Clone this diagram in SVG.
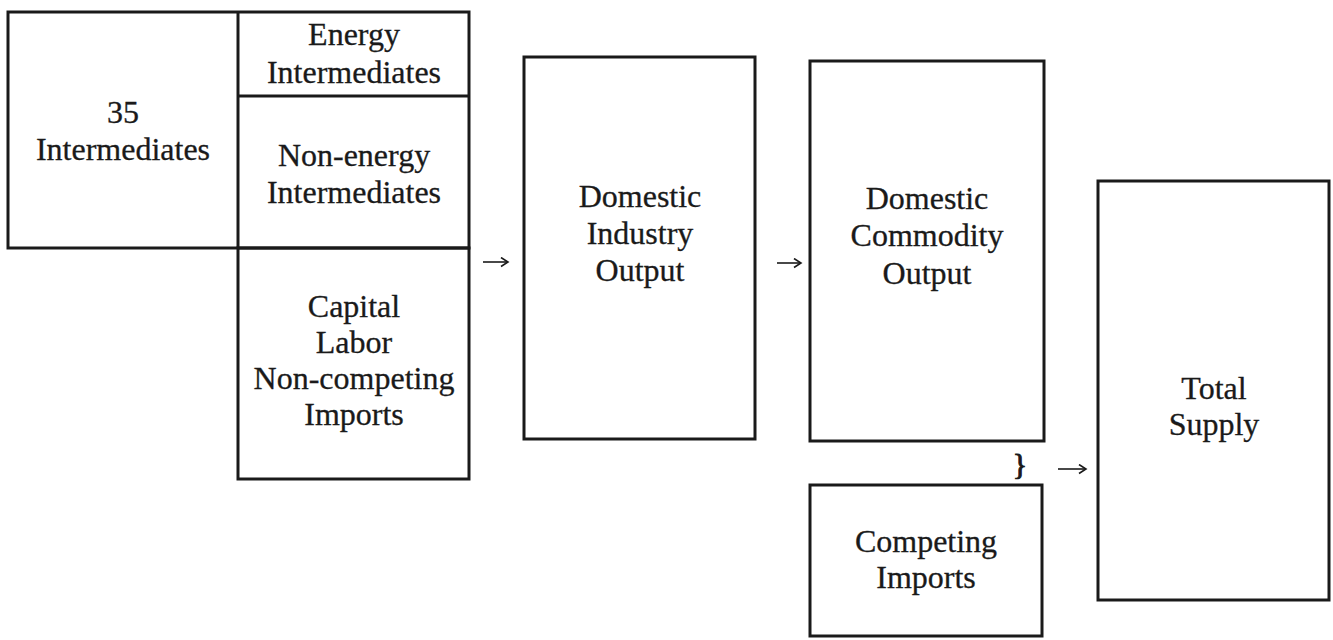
<svg xmlns="http://www.w3.org/2000/svg" width="1333" height="640" viewBox="0 0 1333 640">
<defs>
<style>
.box{fill:none;stroke:#1a1a1a;stroke-width:3}
.t{font-family:"Liberation Serif","Times New Roman",serif;font-size:32px;fill:#1a1a1a;stroke:#1a1a1a;stroke-width:0.3;text-anchor:middle}
.arr{fill:none;stroke:#1a1a1a;stroke-width:1.6}
</style>
<marker id="ah" markerWidth="12" markerHeight="12" refX="9" refY="5" orient="auto" markerUnits="userSpaceOnUse">
<path d="M2,0.5 L9,5 L2,9.5" fill="none" stroke="#1a1a1a" stroke-width="1.6"/>
</marker>
</defs>
<rect width="1333" height="640" fill="#ffffff"/>
<g id="intermediates">
<rect class="box" x="8" y="12" width="461" height="236"/>
<line class="box" x1="238" y1="12" x2="238" y2="248"/>
<text class="t" x="123" y="123">35</text>
<text class="t" x="123" y="160">Intermediates</text>
</g>
<g id="energy">
<line class="box" x1="238" y1="96" x2="469" y2="96"/>
<text class="t" x="354" y="45">Energy</text>
<text class="t" x="354" y="83">Intermediates</text>
</g>
<g id="nonenergy">
<text class="t" x="354" y="166">Non-energy</text>
<text class="t" x="354" y="203">Intermediates</text>
</g>
<g id="factors">
<rect class="box" x="238" y="248" width="231" height="231"/>
<text class="t" x="354" y="317">Capital</text>
<text class="t" x="354" y="353">Labor</text>
<text class="t" x="354" y="389">Non-competing</text>
<text class="t" x="354" y="425">Imports</text>
</g>
<g id="industry">
<rect class="box" x="524" y="57" width="231" height="382"/>
<text class="t" x="640" y="207">Domestic</text>
<text class="t" x="640" y="244">Industry</text>
<text class="t" x="640" y="281">Output</text>
</g>
<g id="commodity">
<rect class="box" x="810" y="61" width="234" height="380"/>
<text class="t" x="927" y="209">Domestic</text>
<text class="t" x="927" y="246">Commodity</text>
<text class="t" x="927" y="284">Output</text>
</g>
<g id="competing">
<rect class="box" x="810" y="485" width="232" height="151"/>
<text class="t" x="926" y="552">Competing</text>
<text class="t" x="926" y="588">Imports</text>
</g>
<g id="supply">
<rect class="box" x="1098" y="181" width="231" height="419"/>
<text class="t" x="1214" y="399">Total</text>
<text class="t" x="1214" y="435">Supply</text>
</g>
<g id="connectors">
<line class="arr" x1="483" y1="262" x2="508" y2="262" marker-end="url(#ah)"/>
<line class="arr" x1="777" y1="263" x2="801" y2="263" marker-end="url(#ah)"/>
<text class="t" x="1020" y="474" style="font-size:30px;stroke-width:1">}</text>
<line class="arr" x1="1058" y1="469" x2="1086" y2="469" marker-end="url(#ah)"/>
</g>
</svg>
